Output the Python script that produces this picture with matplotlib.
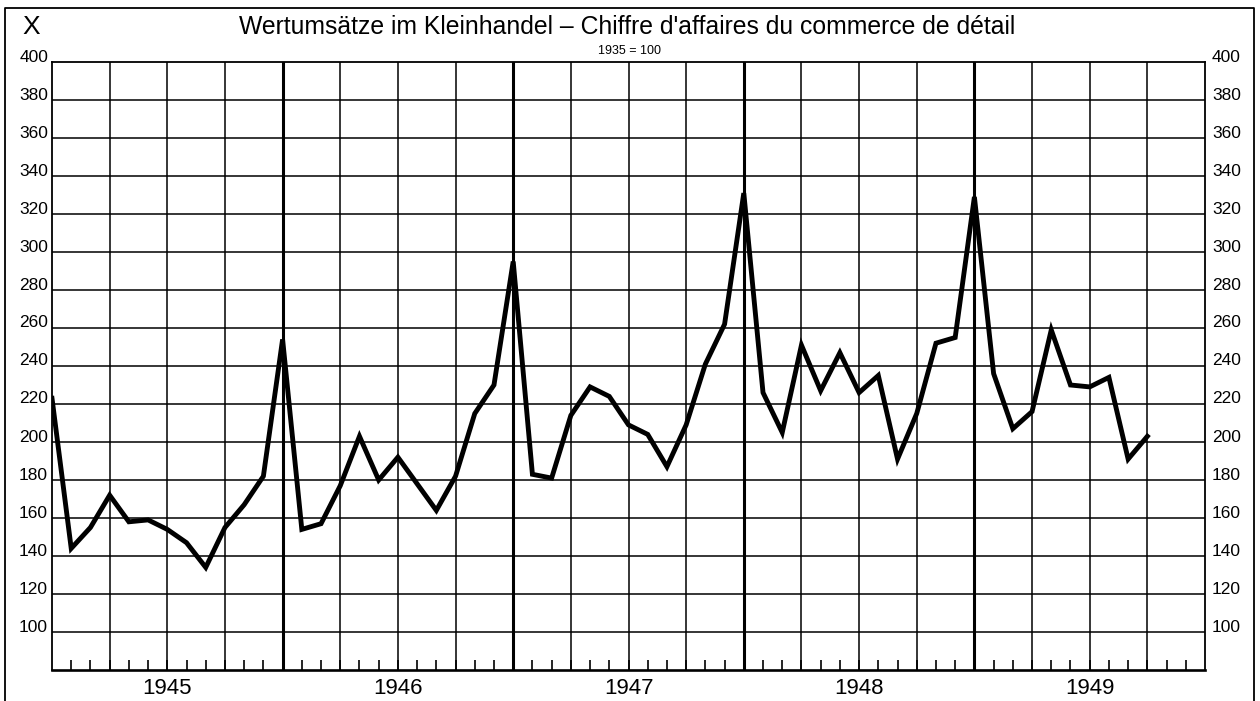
import numpy as np
import matplotlib
matplotlib.use("Agg")
import matplotlib.pyplot as plt
from matplotlib.lines import Line2D
from matplotlib.transforms import offset_copy, blended_transform_factory

plt.rcParams['font.family'] = ['Liberation Sans', 'DejaVu Sans']

# Monthly index values (1935 = 100), Dec 1944 .. Sep 1949
values = [223, 144, 155, 172, 158, 159, 154, 147, 134, 155, 167, 182,   # Dec 44 - Nov 45
          254, 154, 157, 177, 203, 180, 192, 178, 164, 182, 215, 230,   # Dec 45 - Nov 46
          295, 183, 181, 214, 229, 224, 209, 204, 187, 209, 241, 262,   # Dec 46 - Nov 47
          331, 226, 205, 251, 227, 247, 226, 235, 191, 215, 252, 255,   # Dec 47 - Nov 48
          329, 236, 207, 216, 259, 230, 229, 234, 191, 203]             # Dec 48 - Sep 49
years = ['1945', '1946', '1947', '1948', '1949']
y_labels = [100, 120, 140, 160, 180, 200, 220, 240, 260, 280, 300, 320, 340, 360, 380, 400]

title = "Wertumsätze im Kleinhandel – Chiffre d'affaires du commerce de détail"
subtitle = "1935 = 100"

W, H = 1260, 701
fig = plt.figure(figsize=(W / 100, H / 100), dpi=100)
ax = fig.add_axes([52 / W, 31 / H, (1205 - 52) / W, (670 - 62) / H])

n_months = 12 * len(years)
ax.set_xlim(0, n_months)
ax.set_ylim(80, 400)

# grid: quarters thin, year boundaries thick
for q in range(3, n_months, 3):
    lw = 2.2 if q % 12 == 0 else 1.1
    ax.axvline(q, color='black', lw=lw, zorder=1)
for v in y_labels[:-1]:
    ax.axhline(v, color='black', lw=1.1, zorder=1)

ax.plot(np.arange(len(values)), values, color='black', lw=3.5,
        solid_joinstyle='miter', zorder=3)

for side in ['left', 'right', 'top']:
    ax.spines[side].set_linewidth(1.3)
ax.spines['bottom'].set_linewidth(1.9)

# month ticks along the bottom
ax.set_xticks(np.arange(1, n_months), minor=True)
ax.set_xticks([])
ax.set_yticks([])
ax.tick_params(axis='x', which='minor', direction='in', length=7, width=1.2,
               bottom=True, labelbottom=False)

# y labels on both sides, sitting slightly above their lines
tl = offset_copy(blended_transform_factory(ax.transAxes, ax.transData), fig=fig, x=-4, y=5, units='dots')
tr = offset_copy(blended_transform_factory(ax.transAxes, ax.transData), fig=fig, x=7, y=5, units='dots')
for v in y_labels:
    ax.text(0, v, str(v), transform=tl, ha='right', va='center', fontsize=12.5)
    ax.text(1, v, str(v), transform=tr, ha='left', va='center', fontsize=12.5)

# year labels
ty = blended_transform_factory(ax.transData, ax.transAxes)
for k, yr in enumerate(years):
    ax.text(12 * k + 6, -0.03, yr, transform=ty, ha='center', va='center', fontsize=16)

fig.text(627 / W, 1 - 27 / H, title, ha='center', va='center', fontsize=17.8)
fig.text(31 / W, 1 - 27 / H, 'X', ha='center', va='center', fontsize=19)
fig.text(630 / W, 1 - 51 / H, subtitle, ha='center', va='center', fontsize=9)

# outer frame (open at the bottom)
fig.add_artist(Line2D([5 / W, 5 / W, 1254 / W, 1254 / W], [0, 1 - 8 / H, 1 - 8 / H, 0],
                      transform=fig.transFigure, color='black', lw=1.3))

fig.savefig('out.png', dpi=100, facecolor='white')
